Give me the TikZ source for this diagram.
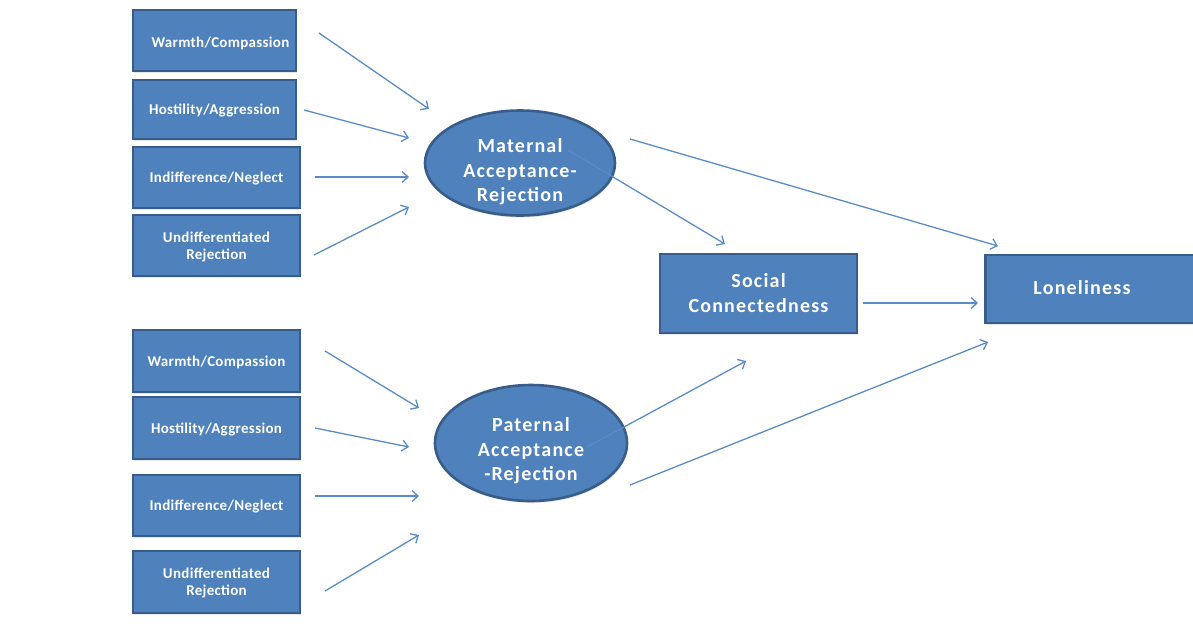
\documentclass[tikz,border=0pt]{standalone}
\usepackage{fontspec}
\setmainfont{Carlito}
\newfontfamily\smallwide{Carlito}[LetterSpace=2]
\newfontfamily\bigwide{Carlito}[LetterSpace=6]
\usetikzlibrary{arrows.meta,shadows,shapes.geometric}
\definecolor{boxfill}{HTML}{4F81BD}
\definecolor{boxline}{HTML}{385D8A}
\definecolor{arrowc}{HTML}{5B8BC8}
\tikzset{
  inbox/.style={draw=boxline, line width=2.6pt, fill=boxfill, text=white,
    font=\smallwide\bfseries\fontsize{15}{17}\selectfont, align=center, inner sep=0pt,
    drop shadow={opacity=0.2, shadow xshift=1pt, shadow yshift=-2pt}},
  bigbox/.style={inbox, font=\bigwide\bfseries\fontsize{20}{25}\selectfont},
  latent/.style={ellipse, draw=boxline, line width=2.6pt, fill=boxfill, text=white,
    font=\bigwide\bfseries\fontsize{20}{24.5}\selectfont, align=center, inner sep=0pt,
    drop shadow={opacity=0.2, shadow xshift=1pt, shadow yshift=-2pt}},
  lab/.style={text=white, align=center, inner sep=0pt},
  smalllab/.style={lab, font=\smallwide\bfseries\fontsize{15}{17}\selectfont},
  biglab/.style={lab, font=\bigwide\bfseries\fontsize{20}{24.5}\selectfont},
  conn/.style={draw=arrowc, line width=1.3pt, -{Straight Barb[length=6pt,width=11pt,line width=1.3pt]}}
}
\begin{document}
\begin{tikzpicture}[x=1pt,y=-1pt]
\useasboundingbox (0,0) rectangle (1193,625);
% left boxes
\node[inbox, minimum width=163pt, minimum height=61pt] (b1) at (214.5,40.5) {};
\node[inbox, minimum width=163pt, minimum height=59pt] (b2) at (214.5,109.5) {};
\node[inbox, minimum width=167pt, minimum height=61pt] (b3) at (216.5,177.5) {};
\node[inbox, minimum width=167pt, minimum height=61pt] (b4) at (216.5,245.5) {};
\node[inbox, minimum width=167pt, minimum height=62pt] (b5) at (216.5,361) {};
\node[inbox, minimum width=167pt, minimum height=62pt] (b6) at (216.5,428) {};
\node[inbox, minimum width=167pt, minimum height=61pt] (b7) at (216.5,505.5) {};
\node[inbox, minimum width=167pt, minimum height=62pt] (b8) at (216.5,582) {};
\node[smalllab] (t1) at ([xshift=6pt,yshift=-3pt]b1.center) {Warmth/Compassion};
\node[smalllab] (t2) at ([yshift=-1pt]b2.center) {Hostility/Aggression};
\node[smalllab] (t3) at ([yshift=-1pt]b3.center) {Indifference/Neglect};
\node[smalllab] (t4) at ([yshift=-1pt]b4.center) {Undifferentiated\\Rejection};
\node[smalllab] (t5) at ([yshift=-1pt]b5.center) {Warmth/Compassion};
\node[smalllab] (t6) at ([yshift=-1pt]b6.center) {Hostility/Aggression};
\node[smalllab] (t7) at ([yshift=-1pt]b7.center) {Indifference/Neglect};
\node[smalllab] (t8) at ([yshift=-1pt]b8.center) {Undifferentiated\\Rejection};
% latent variables
\node[latent, minimum width=190pt, minimum height=105pt] (mat) at (520,163) {};
\node[latent, minimum width=192pt, minimum height=116pt] (pat) at (531,443) {};
\node[biglab] (tm) at ([yshift=-9pt]mat.center) {Maternal\\Acceptance-\\Rejection};
\node[biglab] (tp) at ([yshift=-8pt]pat.center) {Paternal\\Acceptance\\-Rejection};
% outcome boxes
\node[bigbox, minimum width=197pt, minimum height=79pt] (soc) at (758.5,293.5) {Social\\Connectedness};
\node[bigbox, minimum width=210pt, minimum height=68pt, anchor=west] (lon) at (984,289) {};
\node[biglab] (lonlab) at (1082,288) {Loneliness};
% connector end points
\coordinate (s1) at (319,33);  \coordinate (e1) at (429,109);
\coordinate (s2) at (304,110); \coordinate (e2) at (409,138);
\coordinate (s3) at (315,177); \coordinate (e3) at (409,177);
\coordinate (s4) at (314,255); \coordinate (e4) at (409,207);
\coordinate (s5) at (630,139); \coordinate (e5) at (998,246);
\coordinate (s6) at (568,150); \coordinate (e6) at (725,244);
\coordinate (s7) at (863,303); \coordinate (e7) at (978,303);
\coordinate (s8) at (587,447); \coordinate (e8) at (746,361);
\coordinate (s9) at (630,485); \coordinate (e9) at (988,342);
\coordinate (s10) at (325,351); \coordinate (e10) at (419,408);
\coordinate (s11) at (315,428); \coordinate (e11) at (409,447);
\coordinate (s12) at (315,496); \coordinate (e12) at (419,496);
\coordinate (s13) at (325,591); \coordinate (e13) at (419,535);
% connectors
\draw[conn] (s1) -- (e1);
\draw[conn] (s2) -- (e2);
\draw[conn] (s3) -- (e3);
\draw[conn] (s4) -- (e4);
\draw[conn] (s5) -- (e5);
\draw[conn] (s6) -- (e6);
\draw[conn] (s7) -- (e7);
\draw[conn] (s8) -- (e8);
\draw[conn] (s9) -- (e9);
\draw[conn] (s10) -- (e10);
\draw[conn] (s11) -- (e11);
\draw[conn] (s12) -- (e12);
\draw[conn] (s13) -- (e13);
\end{tikzpicture}
\end{document}
